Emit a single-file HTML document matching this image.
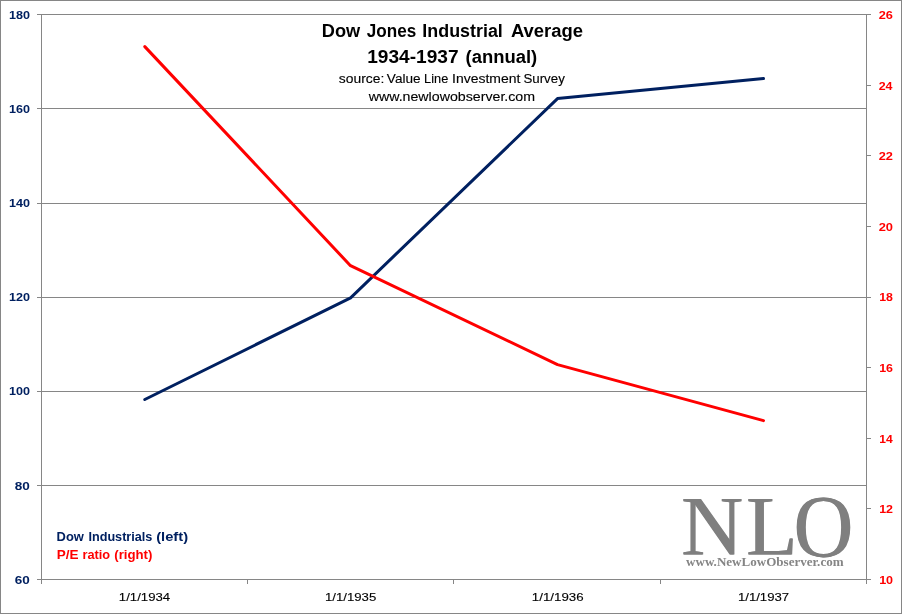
<!DOCTYPE html>
<html>
<head>
<meta charset="utf-8">
<title>Dow Jones Industrial Average 1934-1937 (annual)</title>
<style>
html,body{margin:0;padding:0;background:#fff;}
body{width:902px;height:614px;overflow:hidden;}
svg{display:block;}
text{font-family:"Liberation Sans",sans-serif;}
text.se{font-family:"Liberation Serif",serif;}
.b{font-weight:bold;}
</style>
</head>
<body>
<svg width="902" height="614" viewBox="0 0 902 614">
<rect x="0" y="0" width="902" height="614" fill="#ffffff"/>
<g fill="#868686" shape-rendering="crispEdges">
<!-- outer border -->
<rect x="0" y="0" width="902" height="1"/>
<rect x="0" y="613" width="902" height="1"/>
<rect x="0" y="0" width="1" height="614"/>
<rect x="901" y="0" width="1" height="614"/>
<!-- horizontal gridlines (with left ticks) -->
<rect x="37" y="14" width="830" height="1"/>
<rect x="37" y="108" width="830" height="1"/>
<rect x="37" y="203" width="830" height="1"/>
<rect x="37" y="297" width="830" height="1"/>
<rect x="37" y="391" width="830" height="1"/>
<rect x="37" y="485" width="830" height="1"/>
<rect x="37" y="579" width="834" height="1"/>
<!-- axes -->
<rect x="41" y="14" width="1" height="570"/>
<rect x="866" y="14" width="1" height="570"/>
<!-- bottom ticks -->
<rect x="247" y="579" width="1" height="5"/>
<rect x="453" y="579" width="1" height="5"/>
<rect x="660" y="579" width="1" height="5"/>
<!-- right ticks -->
<rect x="866" y="14" width="5" height="1"/>
<rect x="866" y="85" width="5" height="1"/>
<rect x="866" y="155" width="5" height="1"/>
<rect x="866" y="226" width="5" height="1"/>
<rect x="866" y="297" width="5" height="1"/>
<rect x="866" y="367" width="5" height="1"/>
<rect x="866" y="438" width="5" height="1"/>
<rect x="866" y="508" width="5" height="1"/>
</g>
<!-- watermark logo -->
<text class="se" x="680.79" y="555.1" font-size="85.5" fill="#7f7f7f" textLength="62.10" lengthAdjust="spacingAndGlyphs">N</text>
<text class="se" x="681.49" y="555.1" font-size="85.5" fill="#7f7f7f" textLength="62.10" lengthAdjust="spacingAndGlyphs">N</text>
<text class="se" x="745.77" y="555.1" font-size="85.5" fill="#7f7f7f" textLength="51.48" lengthAdjust="spacingAndGlyphs">L</text>
<text class="se" x="746.47" y="555.1" font-size="85.5" fill="#7f7f7f" textLength="51.48" lengthAdjust="spacingAndGlyphs">L</text>
<text class="se" x="793.37" y="555.1" font-size="85.5" fill="#7f7f7f" textLength="59.69" lengthAdjust="spacingAndGlyphs" transform="translate(0,526.7) scale(1,1.047) translate(0,-526.7)">O</text>
<text class="se" x="794.07" y="555.1" font-size="85.5" fill="#7f7f7f" textLength="59.69" lengthAdjust="spacingAndGlyphs" transform="translate(0,526.7) scale(1,1.047) translate(0,-526.7)">O</text>
<text class="se b" x="686.09" y="565.6" font-size="13" fill="#858585" textLength="157.50" lengthAdjust="spacingAndGlyphs">www.NewLowObserver.com</text>
<!-- series -->
<polyline fill="none" stroke="#002060" stroke-width="3" stroke-linecap="round" stroke-linejoin="round" points="144.8,399.5 350.6,297.8 557.5,98.6 763.5,78.6"/>
<polyline fill="none" stroke="#ff0000" stroke-width="3" stroke-linecap="round" stroke-linejoin="round" points="144.8,46.6 350.5,265.7 557.5,364.6 763.5,420.6"/>
<!-- text -->
<text class="b" x="321.88" y="36.8" font-size="17.6" fill="#000000" textLength="38.37" lengthAdjust="spacingAndGlyphs">Dow</text>
<text class="b" x="366.81" y="36.8" font-size="17.6" fill="#000000" textLength="49.49" lengthAdjust="spacingAndGlyphs">Jones</text>
<text class="b" x="422.38" y="36.8" font-size="17.6" fill="#000000" textLength="80.41" lengthAdjust="spacingAndGlyphs">Industrial</text>
<text class="b" x="510.97" y="36.8" font-size="17.6" fill="#000000" textLength="72.12" lengthAdjust="spacingAndGlyphs">Average</text>
<text class="b" x="367.24" y="62.5" font-size="17.6" fill="#000000" textLength="91.36" lengthAdjust="spacingAndGlyphs">1934-1937</text>
<text class="b" x="465.53" y="62.5" font-size="17.6" fill="#000000" textLength="71.70" lengthAdjust="spacingAndGlyphs">(annual)</text>
<text x="338.88" y="82.9" font-size="12" fill="#000000" textLength="45.46" lengthAdjust="spacingAndGlyphs" stroke="#000" stroke-width="0.12">source:</text>
<text x="386.88" y="82.9" font-size="12" fill="#000000" textLength="33.76" lengthAdjust="spacingAndGlyphs" stroke="#000" stroke-width="0.12">Value</text>
<text x="424.12" y="82.9" font-size="12" fill="#000000" textLength="24.16" lengthAdjust="spacingAndGlyphs" stroke="#000" stroke-width="0.12">Line</text>
<text x="452.03" y="82.9" font-size="12" fill="#000000" textLength="68.34" lengthAdjust="spacingAndGlyphs" stroke="#000" stroke-width="0.12">Investment</text>
<text x="523.40" y="82.9" font-size="12" fill="#000000" textLength="41.42" lengthAdjust="spacingAndGlyphs" stroke="#000" stroke-width="0.12">Survey</text>
<text x="368.70" y="100.8" font-size="12" fill="#000000" textLength="166.38" lengthAdjust="spacingAndGlyphs" stroke="#000" stroke-width="0.12">www.newlowobserver.com</text>
<text class="b" x="56.56" y="541" font-size="12.8" fill="#002060" textLength="27.28" lengthAdjust="spacingAndGlyphs">Dow</text>
<text class="b" x="88.45" y="541" font-size="12.8" fill="#002060" textLength="63.94" lengthAdjust="spacingAndGlyphs">Industrials</text>
<text class="b" x="156.22" y="541" font-size="12.8" fill="#002060" textLength="31.82" lengthAdjust="spacingAndGlyphs">(left)</text>
<text class="b" x="56.70" y="559" font-size="12.8" fill="#ff0000" textLength="21.85" lengthAdjust="spacingAndGlyphs">P/E</text>
<text class="b" x="82.53" y="559" font-size="12.8" fill="#ff0000" textLength="27.64" lengthAdjust="spacingAndGlyphs">ratio</text>
<text class="b" x="114.32" y="559" font-size="12.8" fill="#ff0000" textLength="38.11" lengthAdjust="spacingAndGlyphs">(right)</text>
<text class="b" x="9.12" y="19" font-size="11.8" fill="#002060" textLength="20.96" lengthAdjust="spacingAndGlyphs">180</text>
<text class="b" x="9.12" y="113" font-size="11.8" fill="#002060" textLength="20.96" lengthAdjust="spacingAndGlyphs">160</text>
<text class="b" x="9.12" y="207" font-size="11.8" fill="#002060" textLength="20.96" lengthAdjust="spacingAndGlyphs">140</text>
<text class="b" x="9.12" y="301" font-size="11.8" fill="#002060" textLength="20.96" lengthAdjust="spacingAndGlyphs">120</text>
<text class="b" x="9.12" y="395" font-size="11.8" fill="#002060" textLength="20.96" lengthAdjust="spacingAndGlyphs">100</text>
<text class="b" x="14.84" y="490" font-size="11.8" fill="#002060" textLength="15.05" lengthAdjust="spacingAndGlyphs">80</text>
<text class="b" x="14.86" y="584" font-size="11.8" fill="#002060" textLength="15.00" lengthAdjust="spacingAndGlyphs">60</text>
<text class="b" x="878.71" y="19" font-size="11.8" fill="#ff0000" textLength="14.20" lengthAdjust="spacingAndGlyphs">26</text>
<text class="b" x="878.72" y="90" font-size="11.8" fill="#ff0000" textLength="13.79" lengthAdjust="spacingAndGlyphs">24</text>
<text class="b" x="878.71" y="160" font-size="11.8" fill="#ff0000" textLength="14.21" lengthAdjust="spacingAndGlyphs">22</text>
<text class="b" x="878.70" y="231" font-size="11.8" fill="#ff0000" textLength="14.32" lengthAdjust="spacingAndGlyphs">20</text>
<text class="b" x="879.16" y="301" font-size="11.8" fill="#ff0000" textLength="13.72" lengthAdjust="spacingAndGlyphs">18</text>
<text class="b" x="879.16" y="372" font-size="11.8" fill="#ff0000" textLength="13.83" lengthAdjust="spacingAndGlyphs">16</text>
<text class="b" x="879.18" y="443" font-size="11.8" fill="#ff0000" textLength="13.42" lengthAdjust="spacingAndGlyphs">14</text>
<text class="b" x="879.16" y="513" font-size="11.8" fill="#ff0000" textLength="13.82" lengthAdjust="spacingAndGlyphs">12</text>
<text class="b" x="879.15" y="584" font-size="11.8" fill="#ff0000" textLength="13.93" lengthAdjust="spacingAndGlyphs">10</text>
<text x="118.88" y="601" font-size="11.4" fill="#000000" textLength="51.26" lengthAdjust="spacingAndGlyphs" stroke="#000" stroke-width="0.12">1/1/1934</text>
<text x="324.94" y="601" font-size="11.4" fill="#000000" textLength="51.29" lengthAdjust="spacingAndGlyphs" stroke="#000" stroke-width="0.12">1/1/1935</text>
<text x="531.86" y="601" font-size="11.4" fill="#000000" textLength="51.70" lengthAdjust="spacingAndGlyphs" stroke="#000" stroke-width="0.12">1/1/1936</text>
<text x="737.94" y="601" font-size="11.4" fill="#000000" textLength="51.15" lengthAdjust="spacingAndGlyphs" stroke="#000" stroke-width="0.12">1/1/1937</text>
</svg>
</body>
</html>
